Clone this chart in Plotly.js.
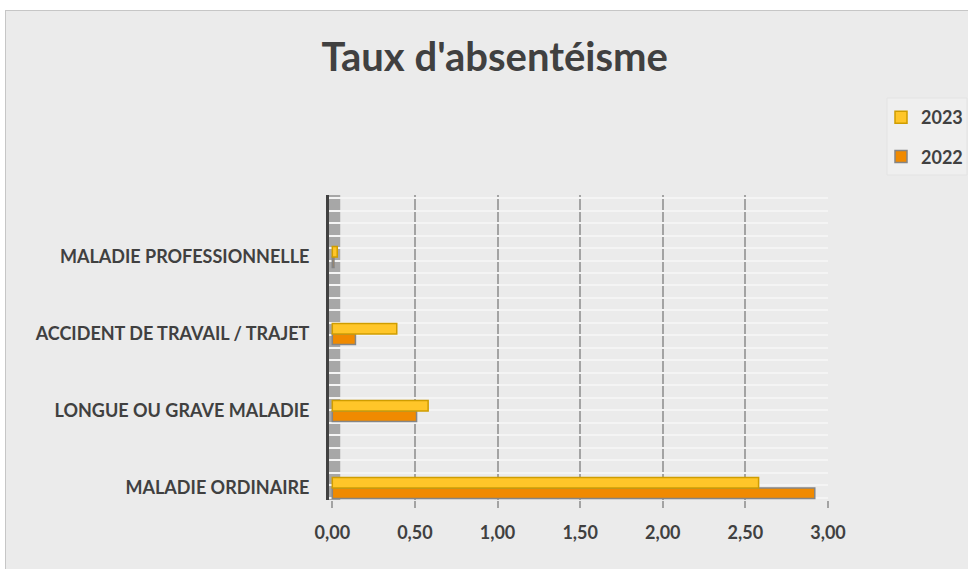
<!DOCTYPE html>
<html><head><meta charset="utf-8">
<script src="https://cdn.plot.ly/plotly-3.0.1.min.js"></script>
<style>
html,body{margin:0;padding:0;background:#ffffff;overflow:hidden;}
#wrap{position:absolute;left:5px;top:10px;width:963px;height:559px;border-left:1px solid #c6c6c6;border-top:1px solid #c6c6c6;background:#ebebeb;}
#chart{width:962px;height:558px;}
</style></head>
<body><div id="wrap"><div id="chart"></div></div>
<script>
// Data
const categories = ['MALADIE ORDINAIRE','LONGUE OU GRAVE MALADIE','ACCIDENT DE TRAVAIL / TRAJET','MALADIE PROFESSIONNELLE'];
const values2022 = [2.92, 0.51, 0.14, 0.01];
const values2023 = [2.58, 0.58, 0.39, 0.03];
const xTickVals = [0, 0.5, 1, 1.5, 2, 2.5, 3];
const xTickText = ['0,00','0,50','1,00','1,50','2,00','2,50','3,00'];

const FONT = 'Lato, "Open Sans", sans-serif';
const TXT = '#404040';

const traces = [
  {type:'bar', orientation:'h', name:'2022', y:categories, x:values2022,
   marker:{color:'#f08a00', line:{color:'#858585', width:1.5}},
   legendgroup:'g2022', legendrank:2, hoverinfo:'x+name'},
  {type:'bar', orientation:'h', name:'2023', y:categories, x:values2023,
   marker:{color:'#ffc629', line:{color:'#cf9d00', width:1.5}},
   legendgroup:'g2023', legendrank:1, hoverinfo:'x+name'}
];

// plot area geometry (figure px) used to place the legend box
const ML = 323, MR = 140, MT = 184, MB = 69, W = 962, H = 558;
const PW = W - ML - MR, PH = H - MT - MB;
const px2x = p => (p - ML) / PW;
const px2y = p => 1 - (p - MT) / PH;

const layout = {
  width:W, height:H,
  paper_bgcolor:'#ebebeb', plot_bgcolor:'rgba(0,0,0,0)',
  margin:{l:ML, r:MR, t:MT, b:MB},
  barmode:'group', bargap:0.73, bargroupgap:0,
  title:{text:"Taux d'absentéisme", font:{family:FONT, size:40, weight:700, color:TXT},
         xref:'container', yref:'container', x:0.508, xanchor:'center', y:0.917, yanchor:'middle'},
  xaxis:{range:[-0.02, 3.0], tickvals:xTickVals, ticktext:xTickText,
         showgrid:true, gridcolor:'#a3a3a3', gridwidth:2,
         zeroline:true, zerolinecolor:'rgba(0,0,0,0)',
         ticks:'outside', ticklen:7, tickwidth:2, tickcolor:'#a3a3a3',
         ticklabelstandoff:9,
         tickfont:{family:FONT, size:18, weight:700, color:TXT}, showline:false, fixedrange:true},
  yaxis:{type:'category', range:[-0.156, 3.805], showgrid:false, zeroline:false,
         showline:true, linecolor:'#404040', linewidth:3,
         ticks:'', ticklabelstandoff:13,
         tickfont:{family:FONT, size:18, weight:700, color:TXT}, fixedrange:true},
  yaxis2:{overlaying:'y', range:[-0.156, 3.805], showgrid:true, gridcolor:'#f4f4f4', gridwidth:2,
          tick0:0.033, dtick:0.1623, showticklabels:false, zeroline:false, side:'right', fixedrange:true},
  shapes:[
    {type:'rect', layer:'below', xref:'x', yref:'paper', x0:-0.02, x1:0.048, y0:0, y1:1,
     fillcolor:'#a7a7a7', line:{width:0}},
    {type:'rect', layer:'below', xref:'paper', yref:'paper',
     x0:px2x(881), x1:px2x(961), y0:px2y(164), y1:px2y(87),
     fillcolor:'#efefef', line:{color:'#e3e3e3', width:1}}
  ],
  legend:{xref:'container', yref:'container', x:(875)/W, y:1-88/H, xanchor:'left', yanchor:'top',
          traceorder:'grouped', itemwidth:30, tracegroupgap:13,
          bgcolor:'rgba(0,0,0,0)', borderwidth:0,
          font:{family:FONT, size:18, weight:700, color:TXT}},
  showlegend:true
};
// invisible trace to anchor yaxis2
traces.push({type:'scatter', x:[0], y:[0], yaxis:'y2', mode:'markers', marker:{opacity:0}, showlegend:false, hoverinfo:'skip'});

Plotly.newPlot('chart', traces, layout, {displayModeBar:false, staticPlot:true});
</script></body></html>
